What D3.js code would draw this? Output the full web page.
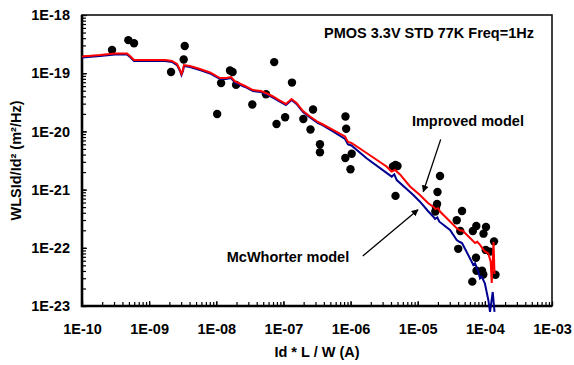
<!DOCTYPE html>
<html>
<head>
<meta charset="utf-8">
<script src="https://cdn.jsdelivr.net/npm/d3@7"></script>
<style>
  body { margin: 0; background: #fff; }
  text { font-family: "Liberation Sans", Arial, sans-serif; font-weight: bold; fill: #000; }
</style>
</head>
<body>
<div id="chart"></div>
<script>
// measured noise points
const measX = [2.8e-10, 4.9e-10, 5.95e-10, 3.39e-9, 3.27e-9, 2.12e-9, 1.6e-8, 1.75e-8, 1.18e-8, 1.97e-8,
  1.03e-8, 3.44e-8, 5.5e-8, 7.29e-8, 1.34e-7, 7.89e-8, 1.06e-7, 2.76e-7, 1.98e-7, 2.53e-7,
  3.5e-7, 3.5e-7, 8.4e-7, 8.6e-7, 1.04e-6, 8.35e-7, 9.97e-7, 4.28e-6, 4.67e-6, 5.0e-6,
  4.67e-6, 2.15e-5, 1.97e-5, 1.94e-5, 1.87e-5, 1.83e-5, 4.57e-5, 3.81e-5, 4.3e-5, 4.01e-5,
  7.46e-5, 6.62e-5, 1.04e-4, 9.55e-5, 1.03e-4, 1.19e-4, 1.37e-4, 7.38e-5, 7.52e-5, 9.08e-5,
  9.48e-5, 6.5e-5, 1.44e-4];
const measY = [2.5e-19, 3.7e-19, 3.27e-19, 2.93e-19, 1.72e-19, 1.05e-19, 1.11e-19, 1.05e-19, 6.8e-20, 6.3e-20,
  1.99e-20, 2.9e-20, 4.34e-20, 1.55e-19, 6.9e-20, 1.34e-20, 1.75e-20, 2.38e-20, 1.63e-20, 1.08e-20,
  6.0e-21, 4.37e-21, 1.8e-20, 1.11e-20, 4.12e-21, 3.49e-21, 2.24e-21, 2.49e-21, 2.65e-21, 2.54e-21,
  7.8e-22, 1.71e-21, 9.1e-22, 5.66e-22, 4.92e-22, 4.2e-22, 4.29e-22, 2.97e-22, 1.94e-22, 9.6e-23,
  2.37e-22, 1.94e-22, 2.28e-22, 1.75e-22, 9.2e-23, 8.6e-23, 1.29e-22, 6.76e-23, 4.04e-23, 4.04e-23,
  3.48e-23, 2.62e-23, 3.45e-23];

// improved model (red)
const improvedX = [1e-10, 1.85e-10, 3.1e-10, 4.68e-10, 5.19e-10, 5.95e-10, 1.03e-9, 1.72e-9, 2.19e-9, 2.6e-9,
  2.88e-9, 3.03e-9, 3.19e-9, 3.3e-9, 4.06e-9, 5.72e-9, 8.06e-9, 1.136e-8, 1.4e-8, 1.66e-8,
  1.9e-8, 2.68e-8, 3.52e-8, 4.63e-8, 5.69e-8, 7.0e-8, 8.59e-8, 1.09e-7, 1.32e-7, 1.566e-7,
  1.957e-7, 2.49e-7, 3.27e-7, 3.75e-7, 5.47e-7, 8.27e-7, 9.16e-7, 1.03e-6, 1.73e-6, 3.43e-6,
  4.07e-6, 4.59e-6, 5.45e-6, 7.68e-6, 1.08e-5, 1.42e-5, 1.72e-5, 1.84e-5, 2.03e-5, 2.15e-5,
  3.78e-5, 4.27e-5, 4.65e-5, 7.14e-5, 7.72e-5, 8.47e-5, 1.0e-4, 1.126e-4, 1.223e-4, 1.265e-4,
  1.346e-4, 1.393e-4];
const improvedY = [1.94e-19, 2.05e-19, 2.18e-19, 2.18e-19, 1.97e-19, 1.69e-19, 1.69e-19, 1.69e-19, 1.62e-19, 1.44e-19,
  1.135e-19, 9.7e-20, 1.135e-19, 1.38e-19, 1.33e-19, 1.18e-19, 1.03e-19, 8.27e-20, 8.27e-20, 8.6e-20,
  7.2e-20, 6.03e-20, 5.14e-20, 4.94e-20, 4.48e-20, 3.98e-20, 3.46e-20, 2.96e-20, 3.6e-20, 3.08e-20,
  2.24e-20, 1.8e-20, 1.45e-20, 1.34e-20, 1.06e-20, 8.18e-21, 6.58e-21, 6.32e-21, 4.26e-21, 2.49e-21,
  2.05e-21, 2.17e-21, 1.82e-21, 1.13e-21, 8.07e-22, 5.89e-22, 5.02e-22, 4.64e-22, 4.77e-22, 4.2e-22,
  2.19e-22, 1.98e-22, 1.98e-22, 1.21e-22, 1.27e-22, 1.12e-22, 8.64e-23, 8.04e-23, 5.7e-23, 2.48e-23,
  1.26e-22, 3.55e-23];

// McWhorter model (blue)
const mcwX = [1e-10, 1.85e-10, 3.1e-10, 4.68e-10, 5.19e-10, 5.95e-10, 1.03e-9, 1.72e-9, 2.19e-9, 2.6e-9,
  2.88e-9, 3.03e-9, 3.19e-9, 3.3e-9, 4.06e-9, 5.72e-9, 8.06e-9, 1.136e-8, 1.4e-8, 1.66e-8,
  1.9e-8, 2.68e-8, 3.52e-8, 4.63e-8, 5.69e-8, 7.0e-8, 8.59e-8, 1.09e-7, 1.32e-7, 1.566e-7,
  1.957e-7, 2.49e-7, 3.27e-7, 3.75e-7, 5.47e-7, 8.27e-7, 9.16e-7, 1.03e-6, 1.73e-6, 4.1e-6,
  4.48e-6, 4.87e-6, 8.6e-6, 1.08e-5, 1.42e-5, 1.71e-5, 1.81e-5, 1.96e-5, 2.1e-5, 3.03e-5,
  3.81e-5, 4.17e-5, 4.57e-5, 6.37e-5, 6.73e-5, 7.14e-5, 7.99e-5, 8.47e-5, 8.98e-5, 1.0e-4,
  1.126e-4, 1.194e-4, 1.31e-4, 1.393e-4];
const mcwY = [1.86e-19, 1.97e-19, 2.09e-19, 2.09e-19, 1.89e-19, 1.62e-19, 1.62e-19, 1.62e-19, 1.56e-19, 1.38e-19,
  1.09e-19, 9.3e-20, 1.09e-19, 1.33e-19, 1.28e-19, 1.13e-19, 9.9e-20, 7.95e-20, 7.95e-20, 8.25e-20,
  6.9e-20, 5.8e-20, 4.93e-20, 4.74e-20, 4.3e-20, 3.82e-20, 3.32e-20, 2.84e-20, 3.46e-20, 2.96e-20,
  2.15e-20, 1.73e-20, 1.39e-20, 1.29e-20, 1.0e-20, 7.4e-21, 5.96e-21, 5.72e-21, 3.45e-21, 1.67e-21,
  1.82e-21, 1.46e-21, 8.07e-22, 6.2e-22, 4.29e-22, 3.42e-22, 3.13e-22, 3.32e-22, 2.81e-22, 2.02e-22,
  1.36e-22, 1.27e-22, 1.21e-22, 5.77e-23, 5.06e-23, 5.42e-23, 3.88e-23, 2.99e-23, 3.19e-23, 2.45e-23,
  1.27e-23, 7.9e-24, 1.74e-23, 7.9e-24];

// axes
const xTicks = [1e-10, 1e-9, 1e-8, 1e-7, 1e-6, 1e-5, 1e-4, 1e-3];
const xTickLabels = ["1E-10", "1E-09", "1E-08", "1E-07", "1E-06", "1E-05", "1E-04", "1E-03"];
const yTicks = [1e-18, 1e-19, 1e-20, 1e-21, 1e-22, 1e-23];
const yTickLabels = ["1E-18", "1E-19", "1E-20", "1E-21", "1E-22", "1E-23"];

// annotations (data coords)
const title = "PMOS 3.3V STD 77K Freq=1Hz";
const improvedLabel = { text: "Improved model", x: 5.6e-5, y: 1.26e-20, from: [2.2e-5, 7.3e-21], to: [1.21e-5, 9.2e-22] };
const mcwLabel = { text: "McWhorter model", x: 1.17e-7, y: 5.7e-23, from: [1.52e-6, 7.23e-23], to: [1.01e-5, 4.52e-22] };

const W = 574, H = 365;
const margin = { TOP: 15, BOTTOM: 59, LEFT: 82, RIGHT: 22 };
const fs = "14.5px";

const svg = d3.select("#chart").append("svg")
  .attr("width", W).attr("height", H);

const x = d3.scaleLog().domain([1e-10, 1e-3]).range([margin.LEFT, W - margin.RIGHT]);
const y = d3.scaleLog().domain([1e-23, 1e-18]).range([H - margin.BOTTOM, margin.TOP]);

svg.append("defs").append("marker")
  .attr("id", "arr").attr("viewBox", "0 0 10 10")
  .attr("refX", 9).attr("refY", 5)
  .attr("markerWidth", 7).attr("markerHeight", 7)
  .attr("markerUnits", "userSpaceOnUse")
  .attr("orient", "auto")
  .append("path").attr("d", "M0,0 L10,5 L0,10 z").attr("fill", "#000");

// minor ticks
const xMinor = svg.append("g")
  .attr("transform", `translate(0,${H - margin.BOTTOM})`)
  .call(d3.axisBottom(x).tickValues(x.ticks()).tickSize(-4).tickFormat(""));
const xMajor = svg.append("g")
  .attr("transform", `translate(0,${H - margin.BOTTOM})`)
  .call(d3.axisBottom(x).tickValues(xTicks).tickSize(-5).tickPadding(18)
    .tickFormat((d, i) => xTickLabels[i]));
const yMinor = svg.append("g")
  .attr("transform", `translate(${margin.LEFT},0)`)
  .call(d3.axisLeft(y).tickValues(y.ticks()).tickSize(-4).tickFormat(""));
const yMajor = svg.append("g")
  .attr("transform", `translate(${margin.LEFT},0)`)
  .call(d3.axisLeft(y).tickValues(yTicks).tickSize(-5).tickPadding(12)
    .tickFormat((d, i) => yTickLabels[i]));

[xMinor, xMajor, yMinor, yMajor].forEach(g => {
  g.select(".domain").remove();
  g.selectAll("line").attr("stroke", "#000").attr("stroke-width", 1.2);
  g.selectAll("text").style("font-size", fs).attr("fill", "#000");
});

// frame
svg.append("rect")
  .attr("x", margin.LEFT).attr("y", margin.TOP)
  .attr("width", W - margin.LEFT - margin.RIGHT)
  .attr("height", H - margin.TOP - margin.BOTTOM)
  .attr("fill", "none").attr("stroke", "#111").attr("stroke-width", 1.6);
svg.append("path")
  .attr("d", `M${margin.LEFT},${margin.TOP}V${H - margin.BOTTOM}H${W - margin.RIGHT}`)
  .attr("fill", "none").attr("stroke", "#000").attr("stroke-width", 2.6);

// points
svg.append("g").selectAll("circle")
  .data(d3.zip(measX, measY))
  .enter().append("circle")
  .attr("cx", d => x(d[0])).attr("cy", d => y(d[1]))
  .attr("r", 4.2).attr("fill", "#000");

const line = d3.line().x(d => x(d[0])).y(d => y(d[1]));

svg.append("path")
  .datum(d3.zip(mcwX, mcwY))
  .attr("d", line).attr("fill", "none")
  .attr("stroke", "#000090").attr("stroke-width", 2);
svg.append("path")
  .datum(d3.zip(improvedX, improvedY))
  .attr("d", line).attr("fill", "none")
  .attr("stroke", "#ff0000").attr("stroke-width", 2);

// annotations
[improvedLabel, mcwLabel].forEach(a => {
  svg.append("line")
    .attr("x1", x(a.from[0])).attr("y1", y(a.from[1]))
    .attr("x2", x(a.to[0])).attr("y2", y(a.to[1]))
    .attr("stroke", "#000").attr("stroke-width", 1.3)
    .attr("marker-end", "url(#arr)");
  svg.append("text")
    .attr("x", x(a.x)).attr("y", y(a.y))
    .attr("text-anchor", "middle")
    .style("font-size", fs)
    .text(a.text);
});

svg.append("text")
  .attr("x", 429).attr("y", 37.5)
  .attr("text-anchor", "middle")
  .style("font-size", fs)
  .text(title);

// axis titles
svg.append("text")
  .attr("x", (margin.LEFT + W - margin.RIGHT) / 2).attr("y", 357)
  .attr("text-anchor", "middle")
  .style("font-size", fs)
  .text("Id * L / W (A)");
svg.append("text")
  .attr("transform", `translate(21,${(margin.TOP + H - margin.BOTTOM) / 2}) rotate(-90)`)
  .attr("text-anchor", "middle")
  .style("font-size", fs)
  .text("WLSId/Id² (m²/Hz)");
</script>
</body>
</html>
